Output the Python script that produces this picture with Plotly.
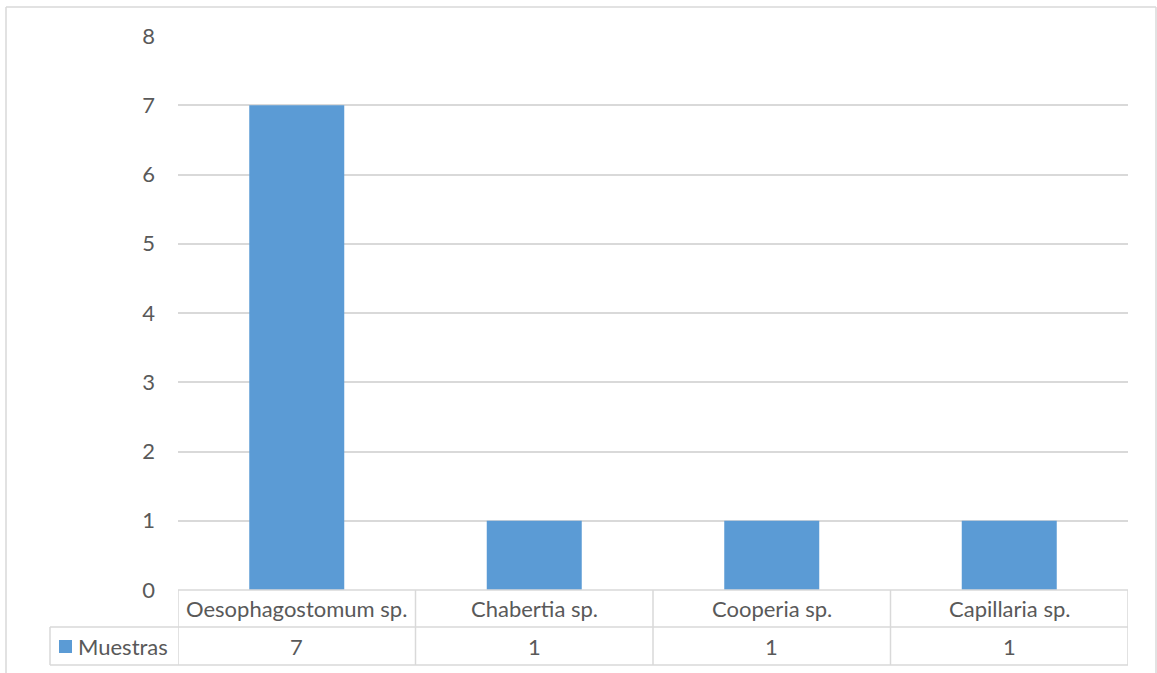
import plotly.graph_objects as go

categories = ["Oesophagostomum sp.", "Chabertia sp.", "Cooperia sp.", "Capillaria sp."]
muestras = [7, 1, 1, 1]
series_name = "Muestras"
y_ticks = [0, 1, 2, 3, 4, 5, 6, 7, 8]

W, H = 1157, 673
BAR = "#5B9BD5"
TXT = "#595959"
GRID = "#D9D9D9"
FONT = "Lato"
FS = 22

def px_x(p):
    return p / W

def px_y(p):
    return 1 - p / H

plot_left, plot_right = 178, 1128
plot_top, plot_bottom = 36, 590
row_mid, row_bottom = 627, 665
legend_left = 50

fig = go.Figure()
fig.add_trace(go.Bar(x=categories, y=muestras, name=series_name,
                     marker=dict(color=BAR, line=dict(width=0)),
                     showlegend=False))

fig.update_layout(
    width=W, height=H,
    margin=dict(l=0, r=0, t=0, b=0, pad=0),
    paper_bgcolor="white", plot_bgcolor="white",
    bargap=0.6,
    showlegend=False,
    font=dict(family=FONT, size=FS, color=TXT),
    xaxis=dict(domain=[px_x(plot_left), px_x(plot_right)], automargin=False,
               showticklabels=False, showgrid=False, zeroline=False,
               showline=False, ticks="", range=[-0.5, len(categories) - 0.5]),
    yaxis=dict(domain=[px_y(plot_bottom), px_y(plot_top)], automargin=False,
               range=[0, 8], tickvals=y_ticks, showgrid=True,
               gridcolor=GRID, gridwidth=1.5, zeroline=False, showline=False,
               ticks="", ticklabelstandoff=22,
               tickfont=dict(family=FONT, size=FS, color=TXT)),
)

shapes = []
line = dict(color=GRID, width=1.5)
# outer chart border
shapes.append(dict(type="line", xref="paper", yref="paper",
                   x0=px_x(6), x1=px_x(6), y0=0, y1=px_y(7), line=line))
shapes.append(dict(type="line", xref="paper", yref="paper",
                   x0=px_x(6), x1=px_x(1156), y0=px_y(7), y1=px_y(7), line=line))
shapes.append(dict(type="line", xref="paper", yref="paper",
                   x0=px_x(1156), x1=px_x(1156), y0=0, y1=px_y(7), line=line))
# data table horizontal rules
for yy, x0 in [(plot_bottom, plot_left), (row_mid, legend_left), (row_bottom, legend_left)]:
    shapes.append(dict(type="line", xref="paper", yref="paper",
                       x0=px_x(x0), x1=px_x(plot_right), y0=px_y(yy), y1=px_y(yy), line=line))
# data table vertical rules at category boundaries
for i in range(len(categories) + 1):
    shapes.append(dict(type="line", xref="x", yref="paper",
                       x0=i - 0.5, x1=i - 0.5, y0=px_y(row_bottom), y1=px_y(plot_bottom), line=line))
shapes.append(dict(type="line", xref="paper", yref="paper",
                   x0=px_x(legend_left), x1=px_x(legend_left),
                   y0=px_y(row_bottom), y1=px_y(row_mid), line=line))
# legend key
shapes.append(dict(type="rect", xref="paper", yref="paper",
                   x0=px_x(59), x1=px_x(72), y0=px_y(653), y1=px_y(640),
                   fillcolor=BAR, line=dict(width=0)))

annotations = []
for cat, val in zip(categories, muestras):
    annotations.append(dict(x=cat, xref="x", y=px_y((plot_bottom + row_mid) / 2), yref="paper",
                            text=cat, showarrow=False, xanchor="center", yanchor="middle",
                            font=dict(family=FONT, size=FS, color=TXT)))
    annotations.append(dict(x=cat, xref="x", y=px_y((row_mid + row_bottom) / 2), yref="paper",
                            text=str(val), showarrow=False, xanchor="center", yanchor="middle",
                            font=dict(family=FONT, size=FS, color=TXT)))
annotations.append(dict(x=px_x(76), xref="paper", y=px_y((row_mid + row_bottom) / 2), yref="paper",
                        text=series_name, showarrow=False, xanchor="left", yanchor="middle",
                        font=dict(family=FONT, size=FS, color=TXT)))

fig.update_layout(shapes=shapes, annotations=annotations)
fig.write_html("out.html")
